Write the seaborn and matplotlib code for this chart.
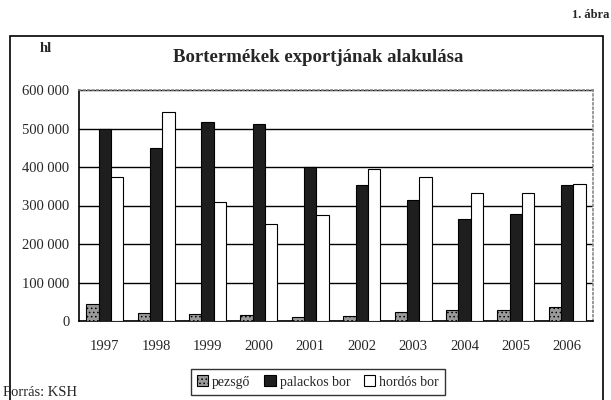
import pandas as pd
import matplotlib
matplotlib.use("Agg")
import matplotlib.pyplot as plt
import seaborn as sns
from matplotlib.patches import Rectangle
from matplotlib.ticker import FuncFormatter, MultipleLocator

years = ["1997", "1998", "1999", "2000", "2001", "2002", "2003", "2004", "2005", "2006"]
pezsgo = [45000, 22000, 19000, 16000, 10000, 13000, 23000, 29000, 29000, 36000]
palackos = [500000, 450000, 517000, 511000, 400000, 353000, 313000, 266000, 278000, 354000]
hordos = [374000, 542000, 310000, 252000, 276000, 394000, 374000, 333000, 333000, 355000]
series = ["pezsgő", "palackos bor", "hordós bor"]

df = pd.DataFrame({"ev": years, series[0]: pezsgo, series[1]: palackos, series[2]: hordos})
long = df.melt(id_vars="ev", var_name="termek", value_name="hl")

sns.set_style("white")
plt.rcParams["font.family"] = ["Liberation Serif", "DejaVu Serif"]
plt.rcParams["hatch.linewidth"] = 0.6

fig = plt.figure(figsize=(6.11, 4.0), dpi=100)
ax = fig.add_axes([79 / 611, 1 - 321 / 400, (593 - 79) / 611, (321 - 90) / 400])

colors = {"pezsgő": "#9a9a9a", "palackos bor": "#1e1e1e", "hordós bor": "#ffffff"}
sns.barplot(data=long, x="ev", y="hl", hue="termek", hue_order=series,
            palette=colors, width=0.72, gap=0, edgecolor="black", linewidth=0.8,
            saturation=1, ax=ax, legend=False, zorder=3)

# stippled texture on the sparkling wine bars
for bar in ax.containers[0]:
    bar.set_hatch("....")

ax.set_ylim(0, 600000)
ax.set_xlim(-0.5, len(years) - 0.5)
ax.yaxis.set_major_locator(MultipleLocator(100000))
ax.yaxis.set_major_formatter(FuncFormatter(lambda v, p: f"{int(v):,}".replace(",", " ")))
ax.grid(axis="y", color="black", linewidth=1.0, zorder=0)
ax.set_axisbelow(True)
ax.set_xlabel("")
ax.set_ylabel("")

# x ticks between groups, labels at the centers
ax.set_xticks([i for i in range(len(years))])
ax.set_xticklabels(years, fontsize=10.5)
ax.set_xticks([i - 0.5 for i in range(len(years) + 1)], minor=True)
ax.tick_params(axis="x", which="major", length=0, pad=14)
ax.tick_params(axis="x", which="minor", direction="out", length=5, width=1, color="black")
ax.tick_params(axis="y", direction="out", length=4, width=1, color="black", labelsize=10.5, pad=3)

for s in ["top", "right"]:
    ax.spines[s].set_color("#888888")
    ax.spines[s].set_linestyle(":")
    ax.spines[s].set_linewidth(1.2)
for s in ["left", "bottom"]:
    ax.spines[s].set_color("black")
    ax.spines[s].set_linewidth(1.2)

# outer frame
frame = Rectangle((10 / 611, -0.05), (603 - 10) / 611, 1.05 - 36 / 400,
                  transform=fig.transFigure, fill=False, edgecolor="black", linewidth=1.2)
fig.patches.append(frame)

fig.text(318 / 611, 1 - 57 / 400, "Bortermékek exportjának alakulása", ha="center", va="center",
         fontsize=13.5, fontweight="bold")
fig.text(46 / 611, 1 - 48 / 400, "hl", ha="center", va="center", fontsize=10.5, fontweight="bold")
fig.text(609 / 611, 1 - 15 / 400, "1. ábra", ha="right", va="center", fontsize=9, fontweight="bold")
fig.text(3 / 611, 1 - 393 / 400, "Forrás: KSH", ha="left", va="center", fontsize=10.5)

handles = [Rectangle((0, 0), 1, 1, facecolor=colors[s], edgecolor="black", linewidth=0.8) for s in series]
handles[0].set_hatch("....")
fig.legend(handles, series, loc="center", bbox_to_anchor=(318 / 611, 1 - 382 / 400), ncol=3,
           frameon=True, fancybox=False, edgecolor="black", fontsize=10,
           handlelength=0.8, handleheight=0.8, handletextpad=0.3, columnspacing=1.0,
           borderpad=0.45)

fig.savefig("out.png", dpi=100)
